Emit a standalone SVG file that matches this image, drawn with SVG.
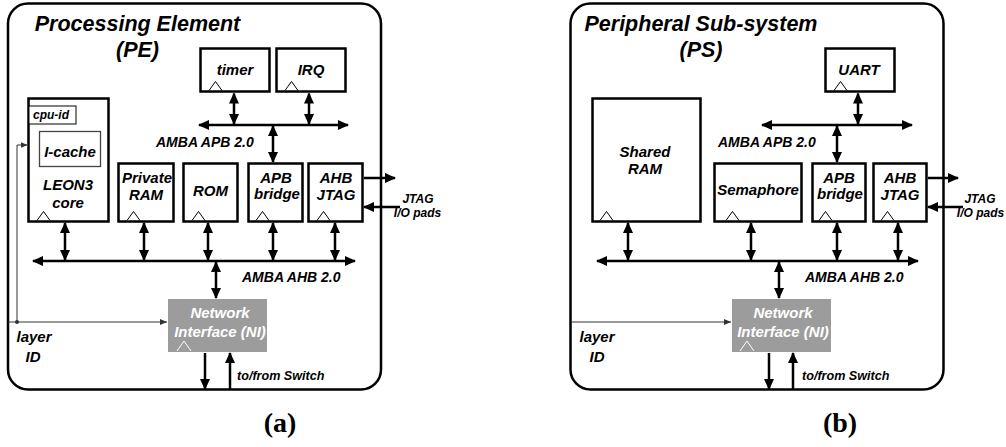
<svg xmlns="http://www.w3.org/2000/svg" width="1006" height="447" viewBox="0 0 1006 447">
<style>
.t{font-family:"Liberation Sans",Arial,sans-serif;font-weight:bold;font-style:italic;fill:#000}
.title{font-size:21.5px;text-anchor:middle}
.lbl{font-size:15px;text-anchor:middle}
.sm{font-size:12px}
.sw{font-size:12.6px}
.bus{font-size:14px}
.cap{font-family:"Liberation Serif","Times New Roman",serif;font-weight:bold;font-size:28px;text-anchor:middle;fill:#000}
.outer{fill:#fff;stroke:#000;stroke-width:2.5}
.box{fill:#fff;stroke:#000;stroke-width:2.5}
.ni{fill:#9c9c9c;stroke:none}
.nit{fill:#fff}
.tri{fill:none;stroke:#000;stroke-width:1}
.triw{fill:none;stroke:#fff;stroke-width:1}
.c{stroke:#000;stroke-width:2.5;fill:none}
.dbl{marker-start:url(#ah);marker-end:url(#ah)}
.one{marker-end:url(#ah)}
.thin{stroke:#333;stroke-width:1;fill:none;marker-end:url(#ahs)}
</style>
<defs>
<marker id="ah" viewBox="0 0 11 10" refX="10" refY="5" markerWidth="11" markerHeight="10" markerUnits="userSpaceOnUse" orient="auto-start-reverse"><path d="M0,0 L11,5 L0,10 z" fill="#000"/></marker>
<marker id="ahs" viewBox="0 0 7 6" refX="7" refY="3" markerWidth="7" markerHeight="6" markerUnits="userSpaceOnUse" orient="auto"><path d="M0,0 L7,3 L0,6 z" fill="#333"/></marker>
</defs>
<rect width="1006" height="447" fill="#fff"/>

<!-- ===== (a) Processing Element ===== -->
<g id="pe">
<rect class="outer" x="8" y="3.5" width="373" height="386" rx="20"/>
<text class="t title" x="137.5" y="31">Processing Element</text>
<text class="t title" x="137.5" y="57">(PE)</text>
</g>
<g id="pe-timer">
<rect class="box" x="200.5" y="48.5" width="69" height="43"/>
<polyline class="tri" points="209,90.5 215.5,81.5 222,90.5"/>
<text class="t lbl" x="235" y="75">timer</text>
</g>
<g id="pe-irq">
<rect class="box" x="276.5" y="48.5" width="69" height="43"/>
<polyline class="tri" points="285,90.5 291.5,81.5 298,90.5"/>
<text class="t lbl" x="311" y="75">IRQ</text>
</g>
<g id="pe-leon3">
<rect class="box" x="28.5" y="98.5" width="80" height="123"/>
<rect x="29" y="106" width="47" height="18" fill="#fff" stroke="#000" stroke-width="1"/>
<text class="t sm" x="51" y="118.5" text-anchor="middle">cpu-id</text>
<rect x="39.5" y="131.5" width="61" height="35" fill="#fff" stroke="#444" stroke-width="1.3"/>
<text class="t lbl" x="70" y="157">I-cache</text>
<text class="t lbl" x="68" y="190">LEON3</text>
<text class="t lbl" x="68" y="207.5">core</text>
<polyline class="tri" points="37,220.5 43.5,211.5 50,220.5"/>
</g>
<g id="pe-privram">
<rect class="box" x="118.5" y="163.5" width="55" height="58"/>
<text class="t lbl" x="147" y="183">Private</text>
<text class="t lbl" x="146" y="200">RAM</text>
<polyline class="tri" points="127,220.5 133.5,211.5 140,220.5"/>
</g>
<g id="pe-rom">
<rect class="box" x="183.5" y="163.5" width="54" height="58"/>
<text class="t lbl" x="210.5" y="196">ROM</text>
<polyline class="tri" points="192,220.5 198.5,211.5 205,220.5"/>
</g>
<g id="pe-apbbridge">
<rect class="box" x="248.5" y="163.5" width="54" height="58"/>
<text class="t lbl" x="276" y="183">APB</text>
<text class="t lbl" x="277" y="199">bridge</text>
<polyline class="tri" points="256,220.5 262.5,211.5 269,220.5"/>
</g>
<g id="pe-ahbjtag">
<rect class="box" x="308.5" y="163.5" width="54" height="58"/>
<text class="t lbl" x="336" y="183">AHB</text>
<text class="t lbl" x="336" y="200">JTAG</text>
<polyline class="tri" points="317,220.5 323.5,211.5 330,220.5"/>
</g>
<g id="pe-ni">
<rect class="ni" x="168" y="299" width="99" height="53"/>
<text class="t lbl nit" x="220" y="318">Network</text>
<text class="t lbl nit" x="220" y="336.5">Interface (NI)</text>
<polyline class="triw" points="177,351 184,341 191,351"/>
</g>
<g id="pe-labels">
<text class="t bus" x="156" y="146.5">AMBA APB 2.0</text>
<text class="t bus" x="242" y="282">AMBA AHB 2.0</text>
<text class="t sm" x="418" y="203" text-anchor="middle">JTAG</text>
<text class="t sm" x="417.5" y="216.5" text-anchor="middle">I/O pads</text>
<text class="t sw" x="237" y="380">to/from Switch</text>
<text class="t lbl" x="34" y="342">layer</text>
<text class="t lbl" x="33" y="362">ID</text>
<text class="cap" x="280" y="432">(a)</text>
</g>
<g id="pe-connectors">
<line class="c dbl" x1="199" y1="125" x2="348" y2="125"/>
<line class="c dbl" x1="33" y1="261" x2="355" y2="261"/>
<line class="c dbl" x1="234" y1="93.5" x2="234" y2="124"/>
<line class="c dbl" x1="309" y1="93.5" x2="309" y2="124"/>
<line class="c dbl" x1="273" y1="126" x2="273" y2="162"/>
<line class="c dbl" x1="65" y1="223" x2="65" y2="260"/>
<line class="c dbl" x1="144" y1="223" x2="144" y2="260"/>
<line class="c dbl" x1="208" y1="223" x2="208" y2="260"/>
<line class="c dbl" x1="273" y1="223" x2="273" y2="260"/>
<line class="c dbl" x1="335" y1="223" x2="335" y2="260"/>
<line class="c dbl" x1="216" y1="262" x2="216" y2="298"/>
<line class="c one" x1="364" y1="178" x2="395" y2="178"/>
<line class="c one" x1="400" y1="207" x2="364" y2="207"/>
<line class="c one" x1="205" y1="353" x2="205" y2="389"/>
<line class="c one" x1="230" y1="389" x2="230" y2="353"/>
<path class="thin" d="M8,322 H167"/>
<path class="thin" d="M17,322 V145 H27.5"/>
<circle cx="17" cy="322" r="2" fill="#333"/>
</g>

<!-- ===== (b) Peripheral Sub-system ===== -->
<g id="ps">
<rect class="outer" x="570.5" y="3.5" width="373" height="386" rx="20"/>
<text class="t title" x="701" y="31">Peripheral Sub-system</text>
<text class="t title" x="701" y="57">(PS)</text>
</g>
<g id="ps-uart">
<rect class="box" x="825.5" y="48.5" width="69" height="43"/>
<polyline class="tri" points="834,90.5 840.5,81.5 847,90.5"/>
<text class="t lbl" x="859" y="75">UART</text>
</g>
<g id="ps-sharedram">
<rect class="box" x="592.5" y="98.5" width="108" height="123"/>
<text class="t lbl" x="645" y="157">Shared</text>
<text class="t lbl" x="645" y="174">RAM</text>
<polyline class="tri" points="600,220.5 606.5,211.5 613,220.5"/>
</g>
<g id="ps-semaphore">
<rect class="box" x="714.5" y="163.5" width="87" height="58"/>
<text class="t lbl" x="758" y="195">Semaphore</text>
<polyline class="tri" points="726,220.5 732.5,211.5 739,220.5"/>
</g>
<g id="ps-apbbridge">
<rect class="box" x="812.5" y="163.5" width="53" height="58"/>
<text class="t lbl" x="839" y="183">APB</text>
<text class="t lbl" x="840" y="199">bridge</text>
<polyline class="tri" points="819,220.5 825.5,211.5 832,220.5"/>
</g>
<g id="ps-ahbjtag">
<rect class="box" x="873.5" y="163.5" width="53" height="58"/>
<text class="t lbl" x="900" y="183">AHB</text>
<text class="t lbl" x="900" y="200">JTAG</text>
<polyline class="tri" points="881,220.5 887.5,211.5 894,220.5"/>
</g>
<g id="ps-ni">
<rect class="ni" x="732" y="299" width="99" height="53"/>
<text class="t lbl nit" x="783" y="318">Network</text>
<text class="t lbl nit" x="783" y="336.5">Interface (NI)</text>
<polyline class="triw" points="740,351 747,341 754,351"/>
</g>
<g id="ps-labels">
<text class="t bus" x="718" y="146.5">AMBA APB 2.0</text>
<text class="t bus" x="805" y="282">AMBA AHB 2.0</text>
<text class="t sm" x="980" y="203" text-anchor="middle">JTAG</text>
<text class="t sm" x="980.5" y="216.5" text-anchor="middle">I/O pads</text>
<text class="t sw" x="802" y="380">to/from Switch</text>
<text class="t lbl" x="597" y="342">layer</text>
<text class="t lbl" x="597" y="362">ID</text>
<text class="cap" x="840" y="432">(b)</text>
</g>
<g id="ps-connectors">
<line class="c dbl" x1="762" y1="125" x2="912" y2="125"/>
<line class="c dbl" x1="597" y1="261" x2="918" y2="261"/>
<line class="c dbl" x1="858" y1="93.5" x2="858" y2="124"/>
<line class="c dbl" x1="837" y1="126" x2="837" y2="162"/>
<line class="c dbl" x1="628" y1="223" x2="628" y2="260"/>
<line class="c dbl" x1="751" y1="223" x2="751" y2="260"/>
<line class="c dbl" x1="837" y1="223" x2="837" y2="260"/>
<line class="c dbl" x1="898" y1="223" x2="898" y2="260"/>
<line class="c dbl" x1="779" y1="262" x2="779" y2="298"/>
<line class="c one" x1="928" y1="178" x2="958" y2="178"/>
<line class="c one" x1="963" y1="207" x2="928" y2="207"/>
<line class="c one" x1="769" y1="353" x2="769" y2="389"/>
<line class="c one" x1="793" y1="389" x2="793" y2="353"/>
<path class="thin" d="M571,322 H731"/>
</g>
</svg>
